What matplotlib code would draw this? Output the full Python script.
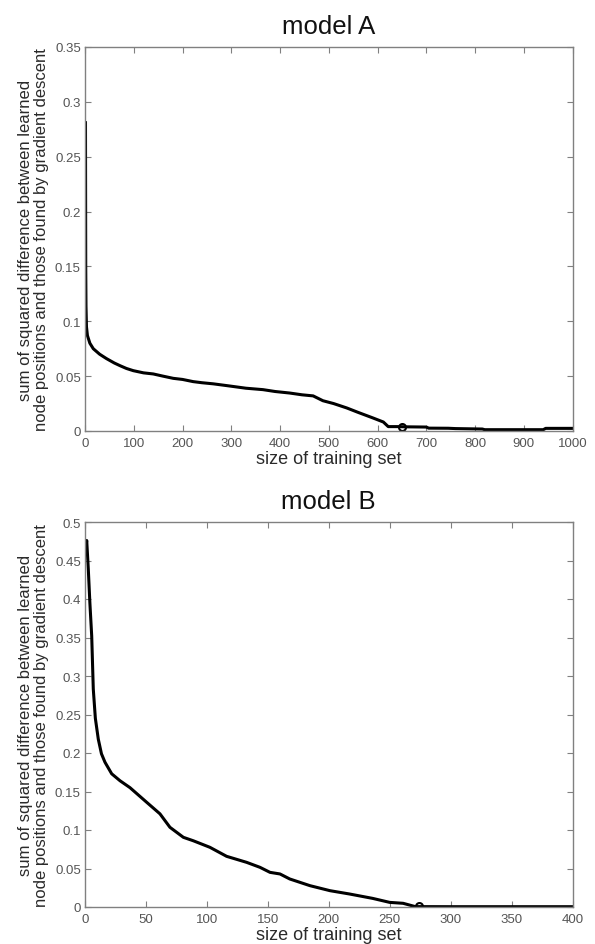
import matplotlib
matplotlib.use("Agg")
import matplotlib.pyplot as plt
import numpy as np

plt.rcParams['font.family'] = ['Liberation Sans', 'DejaVu Sans']

# ---- data: model A ----
a_x = [1, 1.5, 2, 3, 5, 10, 17, 30, 44, 60, 72, 85, 99, 120, 140, 160, 181, 200,
       222, 240, 263, 280, 297, 330, 365, 390, 420, 445, 468, 488, 510, 537, 560,
       590, 612, 622, 640, 660, 700, 705, 745, 760, 815, 820, 940, 945, 1000]
a_y = [0.281, 0.15, 0.114, 0.095, 0.087, 0.080, 0.075, 0.070, 0.066, 0.062, 0.0595,
       0.057, 0.055, 0.053, 0.052, 0.050, 0.048, 0.047, 0.045, 0.044, 0.043, 0.042,
       0.041, 0.039, 0.0377, 0.036, 0.0346, 0.033, 0.032, 0.0276, 0.025, 0.021, 0.017,
       0.012, 0.0082, 0.004, 0.004, 0.0038, 0.0036, 0.0026, 0.0025, 0.0022, 0.0018,
       0.0012, 0.0012, 0.0024, 0.0024]
a_mark_x = [650]
a_mark_y = [0.004]

# ---- data: model B ----
b_x = [1, 1.4, 2.7, 4, 5.5, 6.8, 8.5, 10.9, 13.5, 16.4, 21.9, 28.7, 36.9, 50.6, 61.5,
       69.7, 80.7, 88.9, 102.5, 116.2, 132.6, 143.6, 151.8, 160, 168, 184.6, 201, 217,
       236, 250, 261, 271, 300, 350, 400]
b_y = [0.47, 0.476, 0.439, 0.395, 0.352, 0.283, 0.245, 0.218, 0.199, 0.188, 0.173,
       0.164, 0.155, 0.136, 0.121, 0.1035, 0.0905, 0.086, 0.0775, 0.0658, 0.058,
       0.0515, 0.045, 0.0429, 0.0364, 0.0277, 0.0212, 0.0169, 0.0112, 0.006, 0.0048,
       0.0005, 0.0004, 0.0004, 0.0004]
b_mark_x = [274]
b_mark_y = [0.001]

ylabel = "sum of squared difference between learned\nnode positions and those found by gradient descent"
xlabel = "size of training set"

fig = plt.figure(figsize=(5.95, 9.45), dpi=100)
W, H = 595, 945

def make_ax(left, top, right, bottom):
    return fig.add_axes([left / W, 1 - bottom / H, (right - left) / W, (bottom - top) / H])

axA = make_ax(85, 48, 572.5, 432)
axB = make_ax(85, 523, 572.5, 908)

spine_col = '#808080'
text_col = '#2a2a2a'

def style(ax, xt, yt, xlim, ylim, title):
    ax.set_xlim(*xlim)
    ax.set_ylim(*ylim)
    ax.set_xticks(xt)
    ax.set_yticks(yt)
    ax.set_xticklabels([f"{v:g}" for v in xt])
    ax.set_yticklabels([f"{v:g}" for v in yt])
    for s in ax.spines.values():
        s.set_color(spine_col)
        s.set_linewidth(1.0)
    ax.tick_params(direction='in', top=True, right=True, length=4, width=0.8,
                   color=spine_col, labelcolor='#555555', labelsize=9.5)
    ax.tick_params(axis='x', pad=4)
    ax.tick_params(axis='y', pad=3)
    ax.set_title(title, fontsize=18.5, color='#111111', pad=10)
    ax.set_ylabel(ylabel, fontsize=12, color=text_col, labelpad=4, linespacing=1.15)
    ax.set_xlabel(xlabel, fontsize=13, color=text_col, labelpad=1)

axA.plot(a_x, a_y, color='black', lw=2.2, solid_joinstyle='round')
axA.plot(a_mark_x, a_mark_y, 'o', mfc='none', mec='black', ms=5, mew=1.5)
style(axA, np.arange(0, 1001, 100), np.round(np.arange(0, 0.351, 0.05), 2),
      (0, 1000), (0, 0.35), "model A")

axB.plot(b_x, b_y, color='black', lw=2.2, solid_joinstyle='round')
axB.plot(b_mark_x, b_mark_y, 'o', mfc='none', mec='black', ms=5, mew=1.5)
style(axB, np.arange(0, 401, 50), np.round(np.arange(0, 0.501, 0.05), 2),
      (0, 400), (0, 0.5), "model B")

fig.savefig("out.png", dpi=100, facecolor='white')
